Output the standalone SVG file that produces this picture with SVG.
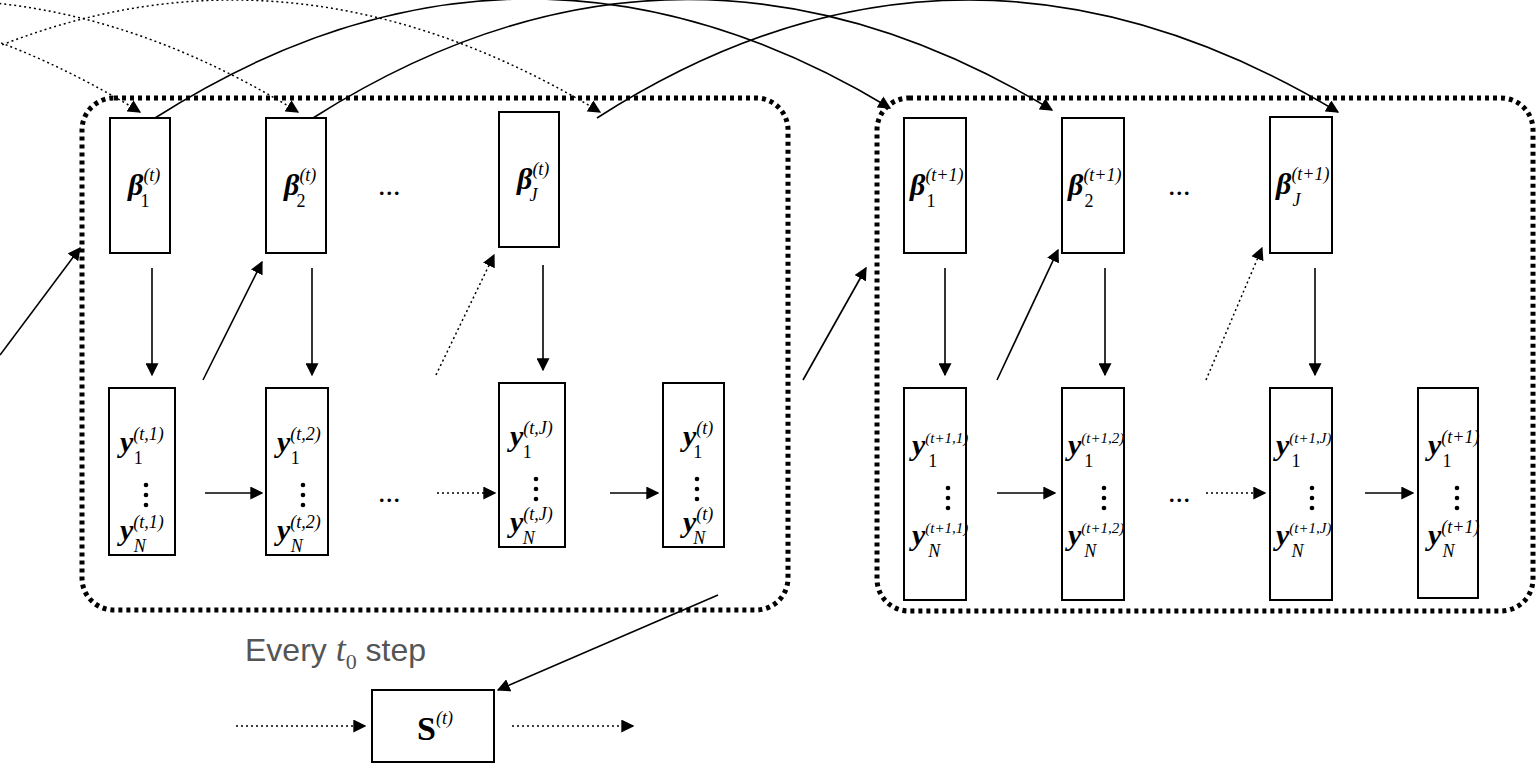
<svg xmlns="http://www.w3.org/2000/svg" width="1536" height="763" viewBox="0 0 1536 763">
<style>
.b{fill:#fff;stroke:#000;stroke-width:2}
.c{fill:none;stroke:#000;stroke-width:5;stroke-dasharray:4 4}
.l{fill:none;stroke:#000;stroke-width:1.6}
.d{fill:none;stroke:#000;stroke-width:1.5;stroke-dasharray:2 3}
.t{font-family:"Liberation Serif",serif;font-size:30px}
.bi{font-weight:bold;font-style:italic}
.p{font-size:18px;font-style:italic;font-weight:normal}
.q{font-size:15px;font-style:italic;font-weight:normal}
.n{font-size:18px;font-style:normal;font-weight:normal}
.i{font-size:18px;font-style:italic;font-weight:normal}
</style>
<defs><marker id="A" viewBox="0 0 10 10" refX="9" refY="5" markerWidth="13" markerHeight="13" markerUnits="userSpaceOnUse" orient="auto"><path d="M0,0L10,5L0,10z"/></marker>
<g id="vd"><circle cx="0" cy="0" r="2.3"/><circle cx="0" cy="10" r="2.3"/><circle cx="0" cy="20" r="2.3"/></g></defs>
<rect class="c" x="82" y="98" width="706" height="512" rx="32"/>
<rect class="c" x="877" y="98" width="656" height="513" rx="32"/>
<g id="connectors">
<path class="l" d="M155,118 Q520,-115 890,108" marker-end="url(#A)"/>
<path class="l" d="M313,118 Q680,-115 1052,110" marker-end="url(#A)"/>
<path class="l" d="M597,118 Q960,-115 1338,112" marker-end="url(#A)"/>
<path class="d" d="M-595,118 Q-230,-115 140,112" marker-end="url(#A)"/>
<path class="d" d="M-437,118 Q-70,-115 298,112" marker-end="url(#A)"/>
<path class="d" d="M-140,118 Q225,-115 600,112" marker-end="url(#A)"/>
<g class="l" marker-end="url(#A)">
<line x1="152" y1="268" x2="152" y2="375"/><line x1="312" y1="268" x2="312" y2="375"/><line x1="543" y1="265" x2="543" y2="370"/>
<line x1="945" y1="268" x2="945" y2="375"/><line x1="1105" y1="268" x2="1105" y2="375"/><line x1="1315" y1="268" x2="1315" y2="375"/>
<line x1="0" y1="355" x2="80" y2="248"/><line x1="203" y1="380" x2="262" y2="262"/>
<line x1="803" y1="380" x2="866" y2="268"/><line x1="997" y1="380" x2="1058" y2="250"/>
<line x1="718" y1="595" x2="498" y2="690"/>
</g>
<g class="l" stroke-width="2.5" marker-end="url(#A)">
<line x1="205" y1="493" x2="262" y2="493"/><line x1="610" y1="493" x2="658" y2="493"/>
<line x1="997" y1="493" x2="1055" y2="493"/><line x1="1365" y1="493" x2="1413" y2="493"/>
</g>
<g class="d" marker-end="url(#A)">
<line x1="436" y1="375" x2="494" y2="255"/><line x1="1206" y1="380" x2="1262" y2="248"/>
<line x1="437" y1="493" x2="495" y2="493"/><line x1="1206" y1="493" x2="1265" y2="493"/>
<line x1="236" y1="726" x2="365" y2="726"/><line x1="512" y1="726" x2="633" y2="726"/>
</g>
</g>
<g class="t">
<g id="b1"><rect class="b" x="110" y="118" width="60" height="135"/><text x="128" y="195" class="bi">β<tspan class="p" dy="-14">(t)</tspan><tspan class="n" dx="-20" dy="26">1</tspan></text></g>
<g id="b2"><rect class="b" x="266" y="118" width="60" height="135"/><text x="284" y="195" class="bi">β<tspan class="p" dy="-14">(t)</tspan><tspan class="n" dx="-20" dy="26">2</tspan></text></g>
<text x="378" y="195">...</text>
<g id="bJ"><rect class="b" x="499" y="112" width="60" height="135"/><text x="517" y="189" class="bi">β<tspan class="p" dy="-14">(t)</tspan><tspan class="i" dx="-20" dy="26">J</tspan></text></g>
<g id="c1"><rect class="b" x="904" y="118" width="62" height="135"/><text x="910" y="195" class="bi">β<tspan class="p" dy="-14">(t+1)</tspan><tspan class="n" dx="-37" dy="26">1</tspan></text></g>
<g id="c2"><rect class="b" x="1062" y="118" width="62" height="135"/><text x="1068" y="195" class="bi">β<tspan class="p" dy="-14">(t+1)</tspan><tspan class="n" dx="-37" dy="26">2</tspan></text></g>
<text x="1168" y="195">...</text>
<g id="cJ"><rect class="b" x="1270" y="117" width="62" height="136"/><text x="1276" y="194" class="bi">β<tspan class="p" dy="-14">(t+1)</tspan><tspan class="i" dx="-37" dy="26">J</tspan></text></g>
<text x="378" y="502">...</text><text x="1168" y="502">...</text>
<g id="y1"><rect class="b" x="109" y="388" width="66" height="167"/><text x="120" y="452" class="bi">y<tspan class="p" dy="-12">(t,1)</tspan><tspan class="n" dx="-30" dy="24">1</tspan></text><use href="#vd" x="146" y="485"/><text x="120" y="540" class="bi">y<tspan class="p" dy="-12">(t,1)</tspan><tspan class="i" dx="-30" dy="24">N</tspan></text></g>
<g id="y2"><rect class="b" x="266" y="388" width="62" height="167"/><text x="277" y="452" class="bi">y<tspan class="p" dy="-12">(t,2)</tspan><tspan class="n" dx="-30" dy="24">1</tspan></text><use href="#vd" x="303" y="485"/><text x="277" y="540" class="bi">y<tspan class="p" dy="-12">(t,2)</tspan><tspan class="i" dx="-30" dy="24">N</tspan></text></g>
<g id="yJ"><rect class="b" x="499" y="383" width="66" height="164"/><text x="510" y="446" class="bi">y<tspan class="p" dy="-12">(t,J)</tspan><tspan class="n" dx="-30" dy="24">1</tspan></text><use href="#vd" x="536" y="479"/><text x="510" y="532" class="bi">y<tspan class="p" dy="-12">(t,J)</tspan><tspan class="i" dx="-30" dy="24">N</tspan></text></g>
<g id="yt"><rect class="b" x="663" y="383" width="61" height="164"/><text x="683" y="446" class="bi">y<tspan class="p" dy="-12">(t)</tspan><tspan class="n" dx="-20" dy="24">1</tspan></text><use href="#vd" x="697" y="479"/><text x="683" y="532" class="bi">y<tspan class="p" dy="-12">(t)</tspan><tspan class="i" dx="-20" dy="24">N</tspan></text></g>
<g id="z1"><rect class="b" x="904" y="388" width="62" height="212"/><text x="912" y="455" class="bi">y<tspan class="q" dy="-12">(t+1,1)</tspan><tspan class="n" dx="-40" dy="24">1</tspan></text><use href="#vd" x="948" y="488"/><text x="912" y="545" class="bi">y<tspan class="q" dy="-12">(t+1,1)</tspan><tspan class="i" dx="-40" dy="24">N</tspan></text></g>
<g id="z2"><rect class="b" x="1062" y="388" width="62" height="212"/><text x="1068" y="455" class="bi">y<tspan class="q" dy="-12">(t+1,2)</tspan><tspan class="n" dx="-40" dy="24">1</tspan></text><use href="#vd" x="1104" y="488"/><text x="1068" y="545" class="bi">y<tspan class="q" dy="-12">(t+1,2)</tspan><tspan class="i" dx="-40" dy="24">N</tspan></text></g>
<g id="zJ"><rect class="b" x="1270" y="388" width="62" height="212"/><text x="1276" y="455" class="bi">y<tspan class="q" dy="-12">(t+1,J)</tspan><tspan class="n" dx="-40" dy="24">1</tspan></text><use href="#vd" x="1312" y="488"/><text x="1276" y="545" class="bi">y<tspan class="q" dy="-12">(t+1,J)</tspan><tspan class="i" dx="-40" dy="24">N</tspan></text></g>
<g id="zt"><rect class="b" x="1418" y="388" width="60" height="210"/><text x="1428" y="455" class="bi">y<tspan class="p" dy="-12">(t+1)</tspan><tspan class="n" dx="-37" dy="24">1</tspan></text><use href="#vd" x="1457" y="488"/><text x="1428" y="545" class="bi">y<tspan class="p" dy="-12">(t+1)</tspan><tspan class="i" dx="-37" dy="24">N</tspan></text></g>
<g id="S"><rect class="b" x="372" y="690" width="122" height="72"/><text x="417" y="740" font-weight="bold" font-size="34">S<tspan class="p" dy="-16">(t)</tspan></text></g>
</g>
<text x="245" y="661" font-family="Liberation Sans,sans-serif" font-size="32" fill="#555">Every <tspan font-family="Liberation Serif,serif" font-style="italic" font-size="36">t</tspan><tspan font-family="Liberation Serif,serif" font-size="22" dy="8">0</tspan><tspan dy="-8"> step</tspan></text>
</svg>
